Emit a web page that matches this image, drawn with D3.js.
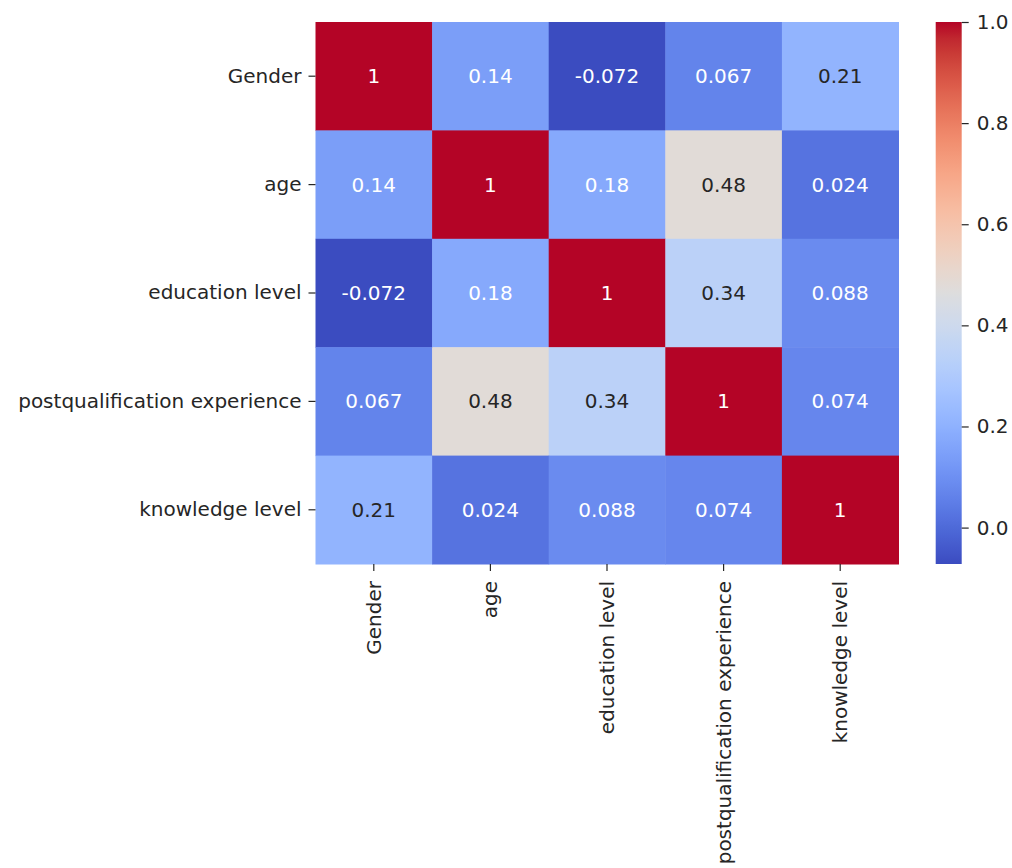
<!DOCTYPE html>
<html>
<head>
<meta charset="utf-8">
<script src="https://cdn.jsdelivr.net/npm/d3@7"></script>
<style>
  body { margin: 0; background: #fff; }
  text { font-family: "DejaVu Sans", sans-serif; }
</style>
</head>
<body>
<div id="chart"></div>
<script>
// correlation matrix
var labels = ["Gender", "age", "education level", "postqualification experience", "knowledge level"];
var row_gender = [1, 0.14, -0.072, 0.067, 0.21];
var row_age = [0.14, 1, 0.176, 0.48, 0.024];
var row_edu = [-0.072, 0.176, 1, 0.34, 0.088];
var row_exp = [0.067, 0.48, 0.34, 1, 0.074];
var row_know = [0.21, 0.024, 0.088, 0.074, 1];
var colorbarTicks = [0.0, 0.2, 0.4, 0.6, 0.8, 1.0];

var matrix = [row_gender, row_age, row_edu, row_exp, row_know];
var vmin = -0.072, vmax = 1.0;

// coolwarm (Moreland) control points
var cw = [
  [59,76,192],[68,90,204],[77,104,215],[87,117,225],[98,130,234],[108,142,241],
  [119,154,247],[130,165,251],[141,176,254],[152,185,255],[163,194,255],[174,201,253],
  [184,208,249],[194,213,244],[204,217,238],[213,219,230],[221,221,221],[229,216,209],
  [236,211,197],[241,204,185],[245,196,173],[247,187,160],[247,177,148],[247,166,135],
  [244,154,123],[241,141,111],[236,127,99],[229,112,88],[222,96,77],[213,80,66],
  [203,62,56],[192,40,47],[180,4,38]
];

var width = 1012, height = 868;
var hmLeft = 315.5, hmTop = 22, hmW = 583, hmH = 542;
var cbX = 935.7, cbW = 26;
var fontSize = "20px";

var color = d3.scaleLinear()
  .domain(cw.map((d, i) => vmin + (vmax - vmin) * i / (cw.length - 1)))
  .range(cw.map(d => d3.rgb(d[0], d[1], d[2])))
  .interpolate(d3.interpolateRgb)
  .clamp(true);

function lum(c) {
  var c2 = d3.rgb(c);
  var f = v => { v = v / 255; return v <= 0.03928 ? v / 12.92 : Math.pow((v + 0.055) / 1.055, 2.4); };
  return 0.2126 * f(c2.r) + 0.7152 * f(c2.g) + 0.0722 * f(c2.b);
}

var fmt = d3.formatLocale({decimal: ".", thousands: ",", grouping: [3], currency: ["", ""], minus: "-"}).format(".2~g");

var svg = d3.select("#chart").append("svg")
  .attr("width", width)
  .attr("height", height);

var x = d3.scaleBand().domain(labels).range([hmLeft, hmLeft + hmW]);
var y = d3.scaleBand().domain(labels).range([hmTop, hmTop + hmH]);

var cells = [];
matrix.forEach(function (row, i) {
  row.forEach(function (v, j) {
    cells.push({ r: labels[i], c: labels[j], v: v });
  });
});

var g = svg.append("g");

g.selectAll("rect.cell")
  .data(cells)
  .enter()
  .append("rect")
  .attr("class", "cell")
  .attr("x", d => x(d.c))
  .attr("y", d => y(d.r))
  .attr("width", x.bandwidth() + 0.5)
  .attr("height", y.bandwidth() + 0.5)
  .attr("fill", d => color(d.v));

g.selectAll("text.annot")
  .data(cells)
  .enter()
  .append("text")
  .attr("class", "annot")
  .attr("x", d => x(d.c) + x.bandwidth() / 2)
  .attr("y", d => y(d.r) + y.bandwidth() / 2)
  .attr("dy", ".35em")
  .attr("text-anchor", "middle")
  .style("font-size", fontSize)
  .attr("fill", d => lum(color(d.v)) > 0.408 ? "#262626" : "#ffffff")
  .text(d => fmt(d.v));

// y axis
var yAxis = svg.append("g")
  .attr("transform", "translate(" + hmLeft + ",0)")
  .call(d3.axisLeft(y).tickSize(7).tickPadding(7));
yAxis.select(".domain").remove();
yAxis.selectAll("text").style("font-size", fontSize).attr("fill", "#262626").style("font-family", "DejaVu Sans");
yAxis.selectAll("line").attr("stroke", "#262626").attr("stroke-width", 1.2);

// x axis
var xAxis = svg.append("g")
  .attr("transform", "translate(0," + (hmTop + hmH) + ")")
  .call(d3.axisBottom(x).tickSize(7).tickPadding(7));
xAxis.select(".domain").remove();
xAxis.selectAll("line").attr("stroke", "#262626").attr("stroke-width", 1.2);
xAxis.selectAll("text")
  .style("font-size", fontSize)
  .style("font-family", "DejaVu Sans")
  .attr("fill", "#262626")
  .attr("y", 0)
  .attr("x", -17)
  .attr("dy", ".35em")
  .attr("text-anchor", "end")
  .attr("transform", "rotate(-90)");

// colorbar
var cbScale = d3.scaleLinear().domain([vmin, vmax]).range([hmTop + hmH, hmTop]);
var defs = svg.append("defs");
var grad = defs.append("linearGradient")
  .attr("id", "cbgrad")
  .attr("x1", 0).attr("y1", 1).attr("x2", 0).attr("y2", 0);
grad.selectAll("stop")
  .data(d3.range(0, 101))
  .enter()
  .append("stop")
  .attr("offset", d => d + "%")
  .attr("stop-color", d => color(vmin + (vmax - vmin) * d / 100));

svg.append("rect")
  .attr("x", cbX)
  .attr("y", hmTop)
  .attr("width", cbW)
  .attr("height", hmH)
  .attr("fill", "url(#cbgrad)");

var cbAxis = svg.append("g")
  .attr("transform", "translate(" + (cbX + cbW) + ",0)")
  .call(d3.axisRight(cbScale).tickValues(colorbarTicks).tickFormat(d3.format(".1f")).tickSize(7).tickPadding(8));
cbAxis.select(".domain").remove();
cbAxis.selectAll("line").attr("stroke", "#262626").attr("stroke-width", 1.2);
cbAxis.selectAll("text").style("font-size", fontSize).style("font-family", "DejaVu Sans").attr("fill", "#262626");
</script>
</body>
</html>
